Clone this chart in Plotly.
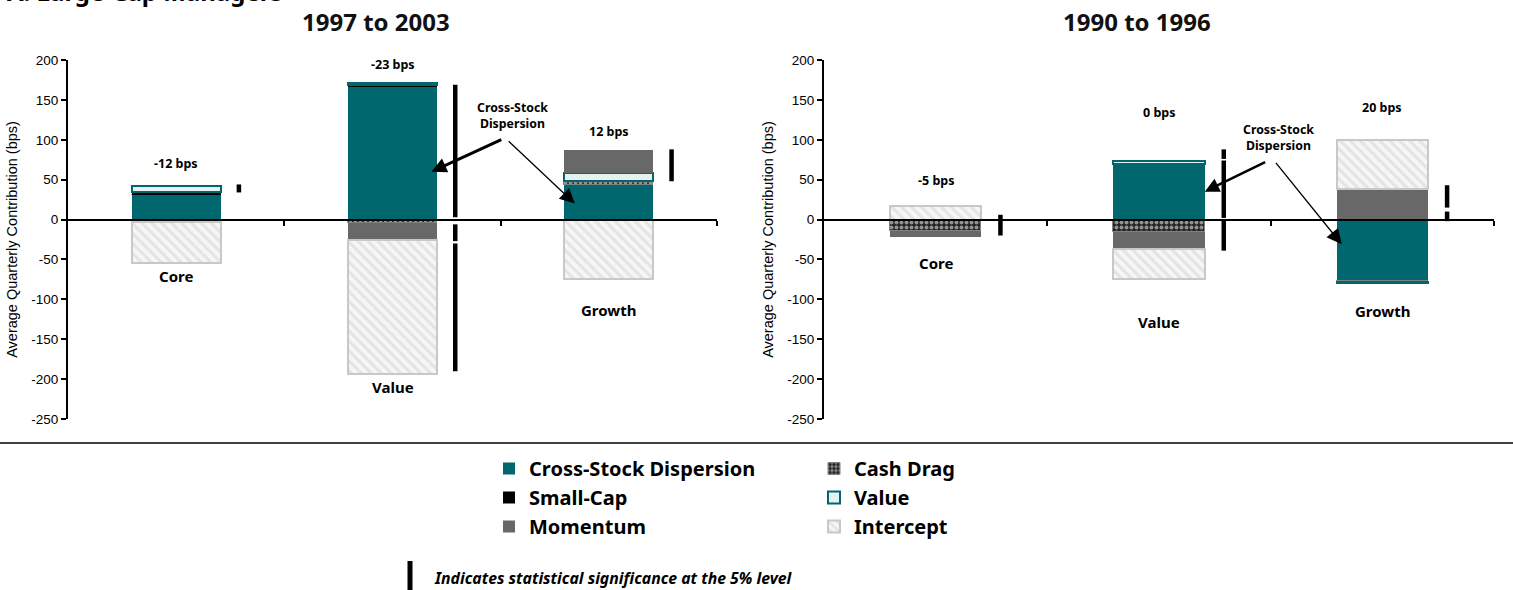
import plotly.graph_objects as go

W, H = 1513, 590

categories = ["Core", "Value", "Growth"]
y_ticks = [200, 150, 100, 50, 0, -50, -100, -150, -200, -250]
y_tick_labels = [str(v) for v in y_ticks]

# Average quarterly factor contributions (bps), 1997 to 2003
dispersion_97 = [31, 166, 43]
cash_drag_97 = [0, -4, 5]
small_cap_97 = [3, 3, 0]
value_97 = [8, 2, 10]
momentum_97 = [-3, -21, 29]
intercept_97 = [-51, -169, -75]

# Average quarterly factor contributions (bps), 1990 to 1996
dispersion_90 = [0, 70, -77]
cash_drag_90 = [-14, -15, -1]
small_cap_90 = [0, 0, 0]
value_90 = [0, 4, -2]
momentum_90 = [-8, -22, 38]
intercept_90 = [17, -37, 62]

# Statistically significant spans (category index, from, to)
sig_cat_97 = [0, 1, 1, 1, 2]
sig_from_97 = [34, 3, -6, -30, 48]
sig_to_97 = [44, 169, -27, -190, 88]

sig_cat_90 = [0, 1, 1, 1, 2, 2]
sig_from_90 = [-20, 76, 2, -1, 15, -2]
sig_to_90 = [6, 88, 74, -39, 43, 10]

# ---- styling ----
TEAL = "#00676e"
BOLD = "Noto Sans"
PLAIN = "Liberation Sans, Arial, sans-serif"
Y_RANGE = [-250, 200]
Y_DOM = [(H - 419) / H, (H - 60) / H]
X_DOMS = [[68 / W, 717 / W], [824 / W, 1494 / W]]
TITLE_X = [376 / W, 1137 / W]
BAR_W = 0.41
SIG_OFFSET = 0.29

series_style = [
    ("Cross-Stock Dispersion", "legend",
     dict(color=TEAL, line=dict(width=0))),
    ("Cash Drag", "legend2",
     dict(color="#222222",
          pattern=dict(shape=".", fgcolor="white", bgcolor="#222222", size=5, solidity=0.5),
          line=dict(color="#808080", width=1))),
    ("Small-Cap", "legend",
     dict(color="black", line=dict(width=0))),
    ("Value", "legend2",
     dict(color="#e6f2f2", line=dict(color=TEAL, width=2))),
    ("Momentum", "legend",
     dict(color="#686868", line=dict(width=0))),
    ("Intercept", "legend2",
     dict(color="#f4f4f4",
          pattern=dict(shape="\\", fgcolor="#d2d2d2", bgcolor="#f6f6f6", size=7, solidity=0.45),
          line=dict(color="#c8c8c8", width=2))),
]

panels = [
    dict(series=[dispersion_97, cash_drag_97, small_cap_97, value_97, momentum_97, intercept_97],
         sig=(sig_cat_97, sig_from_97, sig_to_97),
         title="1997 to 2003",
         total_y=[70, 194, 110],
         cat_y=[-71, -210, -113],
         note_xy=(1.555, 130),
         arrows=[((1.18, 60), (1.51, 101), 3, 1.0), ((1.843, 20), (1.53, 100), 1.3, 2.3)]),
    dict(series=[dispersion_90, cash_drag_90, small_cap_90, value_90, momentum_90, intercept_90],
         sig=(sig_cat_90, sig_from_90, sig_to_90),
         title="1990 to 1996",
         total_y=[49, 134, 140],
         cat_y=[-54, -129, -114],
         note_xy=(1.536, 103),
         arrows=[((1.205, 35), (1.482, 73), 2.5, 1.15), ((1.818, -31), (1.518, 73), 1.3, 2.3)]),
]

fig = go.Figure()
annotations = []
xpos = list(range(len(categories)))

for p, panel in enumerate(panels):
    xa = "x" if p == 0 else "x2"
    ya = "y" if p == 0 else "y2"
    for (name, leg, marker), vals in zip(series_style, panel["series"]):
        fig.add_trace(go.Bar(
            x=xpos, y=vals, width=BAR_W, name=name, marker=marker,
            xaxis=xa, yaxis=ya, legend=leg, legendgroup=name,
            showlegend=(p == 0), hoverinfo="skip",
        ))

    # significance markers
    cats, starts, ends = panel["sig"]
    sx, sy = [], []
    for c, a, b in zip(cats, starts, ends):
        sx += [c + SIG_OFFSET, c + SIG_OFFSET, None]
        sy += [a, b, None]
    fig.add_trace(go.Scatter(
        x=sx, y=sy, mode="lines", line=dict(color="black", width=4.5),
        xaxis=xa, yaxis=ya, showlegend=False, hoverinfo="skip",
    ))

    # totals above the bars and category names below them
    totals = [sum(col) for col in zip(*panel["series"])]
    for i, t in enumerate(totals):
        annotations.append(dict(
            x=i, y=panel["total_y"][i], xref=xa, yref=ya, showarrow=False,
            xanchor="center", yanchor="middle",
            text=f"{round(t)} bps", font=dict(family=BOLD, size=12.5, color="black", weight="bold"),
        ))
        annotations.append(dict(
            x=i, y=panel["cat_y"][i], xref=xa, yref=ya, showarrow=False,
            xanchor="center", yanchor="middle",
            text=categories[i], font=dict(family=BOLD, size=15, color="black", weight="bold"),
        ))

    # callout for the dispersion segments
    nx, ny = panel["note_xy"]
    annotations.append(dict(
        x=nx, y=ny, xref=xa, yref=ya, showarrow=False, xanchor="center", yanchor="middle",
        text="Cross-Stock<br>Dispersion",
        font=dict(family=BOLD, size=12.3, color="black", weight="bold"),
    ))
    for (hx, hy), (tx, ty), aw, asz in panel["arrows"]:
        annotations.append(dict(
            x=hx, y=hy, ax=tx, ay=ty, xref=xa, yref=ya, axref=xa, ayref=ya,
            text="", showarrow=True, arrowhead=2, arrowwidth=aw, arrowsize=asz,
            arrowcolor="black", standoff=0, startstandoff=0,
        ))

    # panel title
    annotations.append(dict(
        x=TITLE_X[p], y=(H - 22) / H, xref="paper", yref="paper",
        xanchor="center", yanchor="middle",
        showarrow=False, text=panel["title"],
        font=dict(family=BOLD, size=24, color="#111", weight="bold"),
    ))

zero_pos = Y_DOM[0] + (0 - Y_RANGE[0]) / (Y_RANGE[1] - Y_RANGE[0]) * (Y_DOM[1] - Y_DOM[0])

axis_common_x = dict(
    range=[-0.5, 2.5], showgrid=False, zeroline=False, showline=True,
    linecolor="black", linewidth=2, ticks="outside", tickvals=[0.5, 1.5, 2.5],
    ticklen=5, tickwidth=1.5, tickcolor="black", showticklabels=False,
    anchor="free", position=zero_pos, fixedrange=True, automargin=False,
)
axis_common_y = dict(
    range=Y_RANGE, domain=Y_DOM, showgrid=False, zeroline=False, showline=True,
    linecolor="black", linewidth=2, ticks="outside", ticklen=5, tickwidth=2,
    tickcolor="black", tickvals=y_ticks, ticktext=y_tick_labels,
    tickfont=dict(family=PLAIN, size=13.5, color="black"),
    title=dict(text="Average Quarterly Contribution (bps)", standoff=10,
               font=dict(family=PLAIN, size=14.5, color="black")),
    fixedrange=True, automargin=False,
)

annotations.append(dict(
    x=5 / W, y=(H - 10) / H, xref="paper", yref="paper", xanchor="left", yanchor="bottom",
    showarrow=False, text="A. Large-Cap Managers",
    font=dict(family=BOLD, size=24, color="black", weight="bold"),
))
annotations.append(dict(
    x=432 / W, y=(H - 578) / H, xref="paper", yref="paper", xanchor="left", yanchor="middle",
    showarrow=False, text="Indicates statistical significance at the 5% level",
    font=dict(family=BOLD, size=15.8, color="black", weight="bold", style="italic"),
))

shapes = [
    dict(type="line", xref="paper", yref="paper", x0=0, x1=1, y0=(H - 443) / H, y1=(H - 443) / H,
         line=dict(color="black", width=1.5)),
    dict(type="line", xref="paper", yref="paper", x0=410 / W, x1=410 / W,
         y0=(H - 561) / H, y1=(H - 590) / H, line=dict(color="black", width=5)),
]

legend_common = dict(
    orientation="v", xanchor="left", yanchor="top", bgcolor="rgba(0,0,0,0)",
    font=dict(family=BOLD, size=20, color="black", weight="bold"),
    traceorder="normal", itemclick=False, itemdoubleclick=False,
)

fig.update_layout(
    width=W, height=H, autosize=False,
    margin=dict(l=0, r=0, t=0, b=0, autoexpand=False),
    paper_bgcolor="white", plot_bgcolor="white",
    barmode="relative", bargap=0,
    xaxis=dict(domain=X_DOMS[0], **axis_common_x),
    yaxis=dict(anchor="x", **axis_common_y),
    xaxis2=dict(domain=X_DOMS[1], **axis_common_x),
    yaxis2=dict(anchor="x2", **axis_common_y),
    legend=dict(x=489 / W, y=(H - 449) / H, **legend_common),
    legend2=dict(x=814 / W, y=(H - 449) / H, **legend_common),
    annotations=annotations,
    shapes=shapes,
)

fig.write_html("out.html")
